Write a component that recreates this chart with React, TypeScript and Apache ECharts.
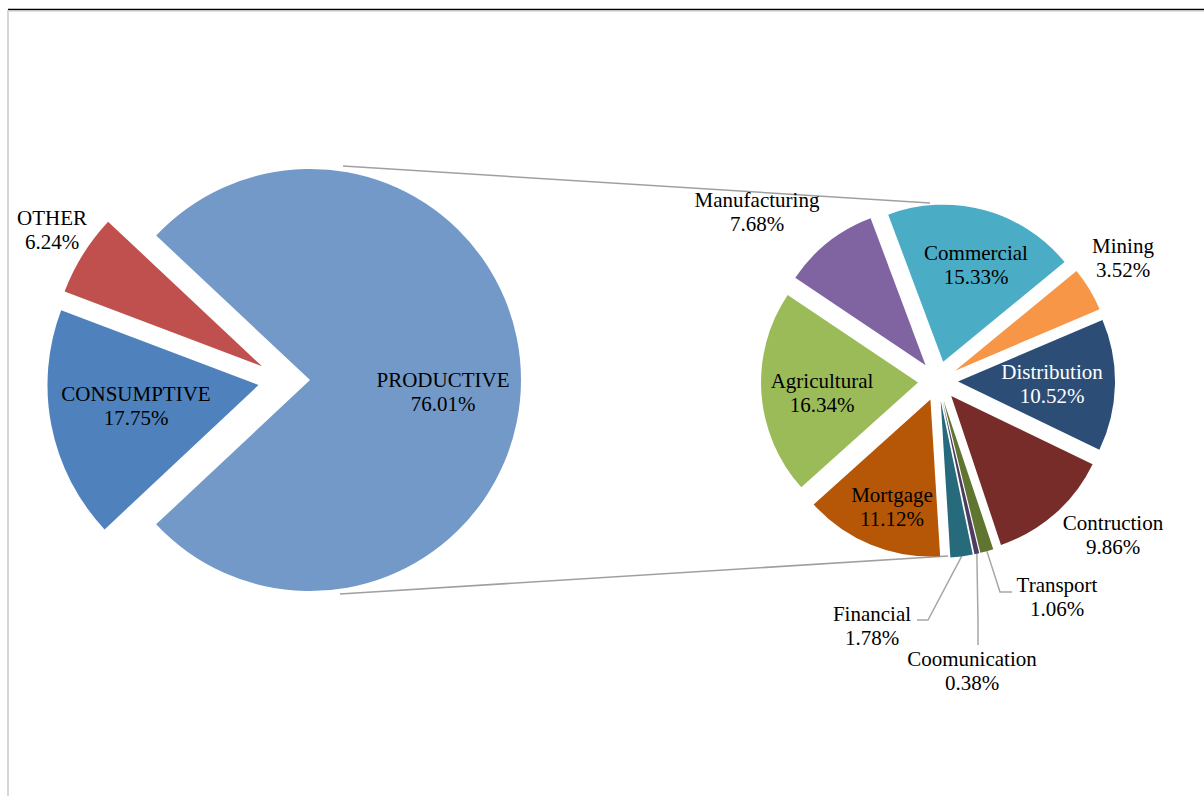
import React, { useEffect, useRef } from 'react';
import * as echarts from 'echarts';

// ---- data ----
const OUTER_NAMES = ['PRODUCTIVE', 'CONSUMPTIVE', 'OTHER'];
const OUTER_VALUES = [76.01, 17.75, 6.24];
const OUTER_COLORS = ['#7399C9', '#4F81BD', '#C0504D'];

const SECTOR_NAMES = [
  'Commercial', 'Mining', 'Distribution', 'Contruction', 'Transport',
  'Coomunication', 'Financial', 'Mortgage', 'Agricultural', 'Manufacturing',
];
const SECTOR_VALUES = [15.33, 3.52, 10.52, 9.86, 1.06, 0.38, 1.78, 11.12, 16.34, 7.68];
const SECTOR_COLORS = [
  '#4BACC6', '#F79646', '#2C4D75', '#772C2A', '#5F7530',
  '#4D3B62', '#276A7C', '#B65708', '#9BBB59', '#8064A2',
];

// ---- layout (pixels) ----
const LEFT = { cx: 284, cy: 380, r: 211, offset: 26, startAngle: 136.8 };
const RIGHT = { cx: 938, cy: 381, r: 157, offset: 20, startAngle: 110.5 };

// label anchor offsets from each pie centre
const OUTER_LABEL_POS: Record<string, number[]> = {
  PRODUCTIVE: [159, 12],
  CONSUMPTIVE: [-148, 26],
  OTHER: [-232, -150],
};
const SECTOR_LABEL_POS: Record<string, number[]> = {
  Manufacturing: [-181, -169],
  Commercial: [38, -116],
  Mining: [185, -123],
  Distribution: [114, 3],
  Contruction: [175, 154],
  Transport: [119, 216],
  Coomunication: [34, 290],
  Financial: [-66, 245],
  Mortgage: [-46, 126],
  Agricultural: [-116, 12],
};
// leader line elbow & end, relative to right pie centre
const SECTOR_LEADERS: Record<string, number[][]> = {
  Transport: [[62, 211], [74, 211]],
  Coomunication: [[40, 240], [40, 264]],
  Financial: [[-10, 239], [-21, 239]],
};
const WHITE_LABELS = ['Distribution'];

const FONT = 'Liberation Serif, Times New Roman, serif';
const CLEAR = 'rgba(0,0,0,0)';

function midAngles(values: number[], startAngle: number) {
  const total = values.reduce((a, b) => a + b, 0);
  let cum = 0;
  return values.map((v) => {
    const a0 = cum;
    cum += v;
    return startAngle - ((a0 + v / 2) / total) * 360;
  });
}

export default function App() {
  const ref = useRef<HTMLDivElement>(null);

  useEffect(() => {
    if (!ref.current) return;
    const chart = echarts.init(ref.current, undefined, { renderer: 'svg' });

    const rightMids = midAngles(SECTOR_VALUES, RIGHT.startAngle);
    const fmt = (p: any) => `${p.name}\n${Number(p.value).toFixed(2)}%`;

    const baseLabel = {
      show: true,
      position: 'outside',
      formatter: fmt,
      fontFamily: FONT,
      fontSize: 21,
      lineHeight: 24,
      color: '#000',
      align: 'center',
    };

    const common = {
      type: 'pie',
      avoidLabelOverlap: false,
      silent: true,
      emphasis: { disabled: true },
      itemStyle: { borderWidth: 0 },
    };

    // exploded slices (no labels)
    const leftSlices = {
      ...common,
      center: [LEFT.cx, LEFT.cy],
      radius: LEFT.r,
      startAngle: LEFT.startAngle,
      selectedMode: 'multiple',
      selectedOffset: LEFT.offset,
      label: { show: false },
      labelLine: { show: false },
      data: OUTER_NAMES.map((n, i) => ({
        name: n, value: OUTER_VALUES[i], selected: true,
        itemStyle: { color: OUTER_COLORS[i] },
      })),
    };
    const rightSlices = {
      ...common,
      center: [RIGHT.cx, RIGHT.cy],
      radius: RIGHT.r,
      startAngle: RIGHT.startAngle,
      selectedMode: 'multiple',
      selectedOffset: RIGHT.offset,
      label: { show: false },
      labelLine: { show: false },
      data: SECTOR_NAMES.map((n, i) => ({
        name: n, value: SECTOR_VALUES[i], selected: true,
        itemStyle: { color: SECTOR_COLORS[i] },
      })),
    };

    // label carriers (same geometry, transparent, not exploded)
    const leftLabels = {
      ...common,
      center: [LEFT.cx, LEFT.cy],
      radius: LEFT.r,
      startAngle: LEFT.startAngle,
      selectedMode: false,
      label: baseLabel,
      labelLine: { show: false },
      labelLayout: (params: any) => {
        const pos = OUTER_LABEL_POS[OUTER_NAMES[params.dataIndex]];
        return { x: LEFT.cx + pos[0], y: LEFT.cy + pos[1], align: 'center', verticalAlign: 'middle' };
      },
      data: OUTER_NAMES.map((n, i) => ({
        name: n, value: OUTER_VALUES[i],
        itemStyle: { color: CLEAR },
      })),
    };
    const rightLabels = {
      ...common,
      center: [RIGHT.cx, RIGHT.cy],
      radius: RIGHT.r,
      startAngle: RIGHT.startAngle,
      selectedMode: false,
      label: baseLabel,
      labelLine: { show: false, length: 10, length2: 10 },
      labelLayout: (params: any) => {
        const i = params.dataIndex;
        const name = SECTOR_NAMES[i];
        const pos = SECTOR_LABEL_POS[name];
        const out: any = {
          x: RIGHT.cx + pos[0], y: RIGHT.cy + pos[1], align: 'center', verticalAlign: 'middle',
        };
        const leader = SECTOR_LEADERS[name];
        if (leader) {
          const a = (rightMids[i] * Math.PI) / 180;
          const R = RIGHT.r + RIGHT.offset;
          const start = [RIGHT.cx + R * Math.cos(a), RIGHT.cy - R * Math.sin(a)];
          out.labelLinePoints = [
            start,
            [RIGHT.cx + leader[0][0], RIGHT.cy + leader[0][1]],
            [RIGHT.cx + leader[1][0], RIGHT.cy + leader[1][1]],
          ];
        }
        return out;
      },
      data: SECTOR_NAMES.map((n, i) => ({
        name: n, value: SECTOR_VALUES[i],
        itemStyle: { color: CLEAR },
        label: { color: WHITE_LABELS.includes(n) ? '#ffffff' : '#000000' },
        labelLine: { show: !!SECTOR_LEADERS[n], lineStyle: { color: '#A6A6A6', width: 1.5 } },
      })),
    };

    const topConnL = [LEFT.cx + LEFT.offset + 33, 166];
    const botConnL = [LEFT.cx + LEFT.offset + 30, 594];
    const topConnR = [RIGHT.cx - 8, RIGHT.cy - RIGHT.r - RIGHT.offset - 1];
    const botConnR = [RIGHT.cx + 10, RIGHT.cy + RIGHT.r + RIGHT.offset - 2];

    chart.setOption({
      animation: false,
      backgroundColor: '#ffffff',
      graphic: [
        { type: 'line', shape: { x1: 8, y1: 9.5, x2: 1204, y2: 9.5 }, style: { stroke: '#000', lineWidth: 1.6 } },
        { type: 'line', shape: { x1: 8, y1: 11, x2: 1204, y2: 11 }, style: { stroke: '#c8c8c8', lineWidth: 1.2 } },
        { type: 'line', shape: { x1: 8, y1: 10, x2: 8, y2: 796 }, style: { stroke: '#d6d6d6', lineWidth: 2 } },
        { type: 'line', shape: { x1: topConnL[0], y1: topConnL[1], x2: topConnR[0], y2: topConnR[1] }, style: { stroke: '#A0A0A0', lineWidth: 1.5 } },
        { type: 'line', shape: { x1: botConnL[0], y1: botConnL[1], x2: botConnR[0], y2: botConnR[1] }, style: { stroke: '#A0A0A0', lineWidth: 1.5 } },
      ],
      series: [leftSlices, rightSlices, leftLabels, rightLabels],
    });

    return () => chart.dispose();
  }, []);

  return (
    <div
      ref={ref}
      style={{ position: 'fixed', left: 0, top: 0, width: 1204, height: 796, background: '#fff' }}
    />
  );
}
